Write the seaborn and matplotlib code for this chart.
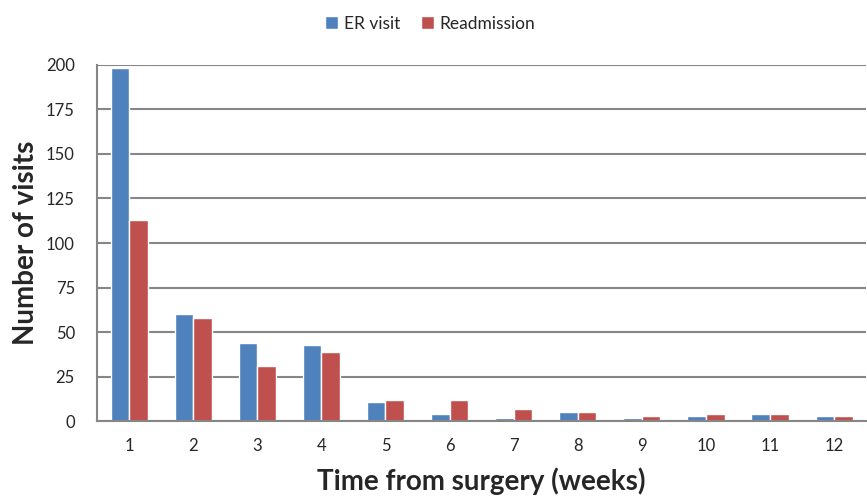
import pandas as pd
import matplotlib.pyplot as plt
import seaborn as sns
from matplotlib.ticker import FixedLocator

weeks = ['1', '2', '3', '4', '5', '6', '7', '8', '9', '10', '11', '12']
er_visit = [198, 60, 44, 43, 11, 4, 2, 5, 2, 3, 4, 3]
readmission = [113, 58, 31, 39, 12, 12, 7, 5, 3, 4, 4, 3]

df = pd.DataFrame({
    'week': weeks * 2,
    'visits': er_visit + readmission,
    'type': ['ER visit'] * len(weeks) + ['Readmission'] * len(weeks),
})

sns.set_style('white')
plt.rcParams['font.family'] = ['Lato', 'DejaVu Sans']

fig = plt.figure(figsize=(8.67, 4.99), dpi=100)
ax = fig.add_axes([0.112, 0.156, 0.887, 0.714])

grey = '#868686'
sns.barplot(data=df, x='week', y='visits', hue='type',
            palette=['#4F81BD', '#C0504D'], width=0.58, gap=0, ax=ax,
            saturation=1, legend=True)

ax.set_ylim(0, 200)
ax.set_xlim(-0.5, 11.5)
ax.set_yticks(range(0, 201, 25))
ax.yaxis.grid(True, color=grey, linewidth=1.5)
ax.set_axisbelow(True)
for s in ['top', 'right']:
    ax.spines[s].set_visible(False)
for s in ['left', 'bottom']:
    ax.spines[s].set_color(grey)
    ax.spines[s].set_linewidth(1.5)

ax.xaxis.set_minor_locator(FixedLocator([i - 0.5 for i in range(13)]))
ax.tick_params(axis='x', which='major', length=0, pad=12, labelsize=12)
ax.tick_params(axis='x', which='minor', length=8, width=1.5, color=grey, direction='out')
ax.tick_params(axis='y', length=6, width=1.5, color=grey, direction='out', labelsize=12, pad=10)

ax.set_xlabel('Time from surgery (weeks)', fontsize=20, fontweight='bold', labelpad=10)
ax.set_ylabel('Number of visits', fontsize=20, fontweight='bold', labelpad=5)

ax.legend_.remove()
handles, labels = ax.get_legend_handles_labels()
fig.legend(handles, labels, loc='upper center', bbox_to_anchor=(0.496, 1.0), ncol=2,
           frameon=False, fontsize=12.5, handlelength=0.75, handleheight=0.75,
           handletextpad=0.35, columnspacing=1.2)

fig.savefig('out.png', dpi=100)
